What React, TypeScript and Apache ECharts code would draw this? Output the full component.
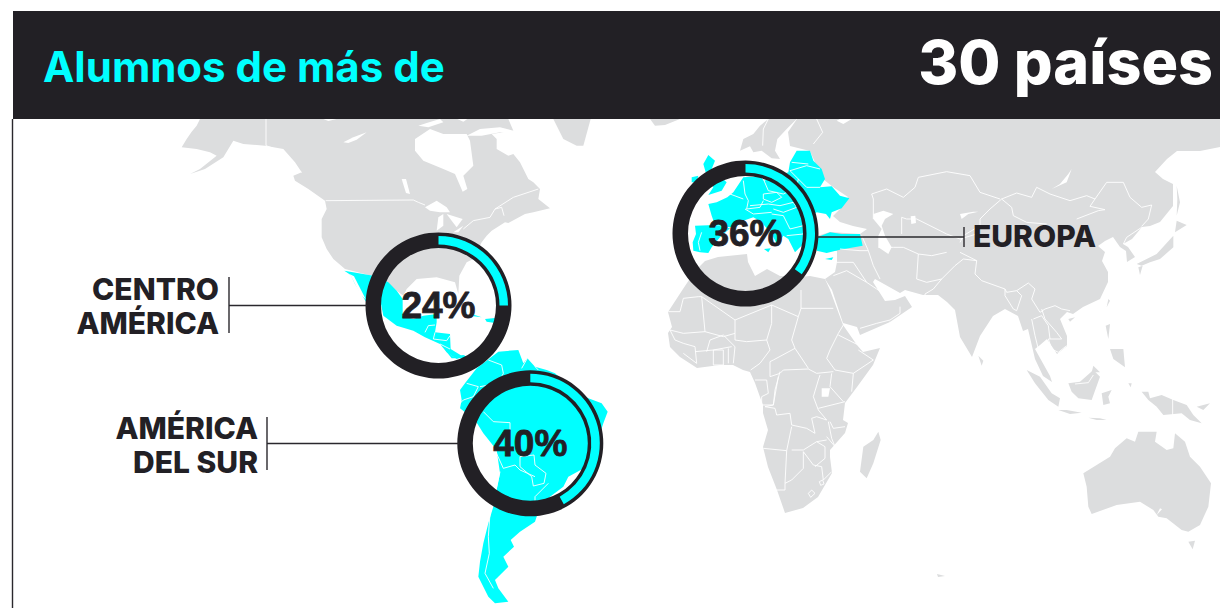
import React, { useEffect, useRef } from "react";
import * as echarts from "echarts";

const headerLead = "Alumnos de más de";
const headerCount = "30 países";
const regionNames = ["CENTRO\nAMÉRICA", "AMÉRICA\nDEL SUR", "EUROPA"];
const percentLabels = ["24%", "40%", "36%"];
const arcShares = [25, 42, 35];

const CYAN = "#00ffff";
const DARK = "#222025";
const LAND = "#dcddde";

// Traced outlines: flat x,y lists, in 3x crop units of the reference.
const crop = (ox: number, oy: number) => (f: number[]) => {
  const out: number[][] = [];
  for (let i = 0; i < f.length; i += 2) out.push([ox + f[i] / 3, oy + f[i + 1] / 3]);
  return out;
};
const na = crop(180, 119);
const sa = crop(440, 340);
const eu = crop(640, 119);
const ea = crop(960, 119);
const af = crop(660, 290);
const oc = crop(1000, 370);
const abs = (f: number[]) => crop(0, 0)(f.map((v) => v * 3));

const grayLand: number[][][] = [
  na([60,0,50,20,35,38,20,60,5,85,50,90,90,100,110,110,60,150,30,165,75,150,130,115,160,65,190,75,255,80,310,90,345,130,365,160,340,170,345,185,385,210,435,245,440,270,425,300,425,355,440,390,460,420,495,450,575,470,620,490,650,515,670,530,680,510,710,480,770,475,825,490,835,525,838,470,860,430,880,420,905,370,920,350,935,335,975,310,985,312,1035,285,1060,280,1110,268,1075,240,1080,210,1060,190,1045,180,1020,130,1000,105,985,110,950,90,950,60,935,45,1000,35,985,0]),
  na([1120,0,1232,0,1210,80,1190,80,1150,60]),
  eu([30,0,120,0,75,18,45,20]),
  eu([300,95,310,60,340,45,360,20,385,0,470,0,440,30,412,60,405,95,420,120,395,118,365,95,340,100,330,82]),
  abs([797,119,1220,119,1220,147,1200,151,1177,151,1167,159,1155,172,1163,179,1173,184,1173,206,1160,222,1150,226,1142,227,1132,239,1123,244,1128,247,1135,257,1127,262,1126,251,1120,247,1113,237,1105,241,1098,246,1105,252,1102,261,1108,272,1108,282,1100,299,1083,307,1073,314,1067,312,1060,319,1067,336,1067,346,1057,354,1047,339,1040,345,1035,349,1050,376,1052,382,1043,376,1035,359,1028,329,1023,331,1018,316,1005,309,993,316,980,336,972,357,960,337,955,310,947,302,938,295,923,295,905,290,900,293,875,279,873,282,885,301,895,300,905,296,912,307,890,322,860,335,857,327,843,323,832,290,825,279,835,272,837,262,837,251,817,251,817,236,830,232,860,234,867,229,853,226,840,222,833,216,840,209,848,197,833,187,823,179,817,167,810,151,790,146,788,132]),
  // Africa
  abs([695,271,683,289,668,312,672,327,668,333,670,347,680,357,697,368,720,365,733,365,743,370,750,372,755,383,760,397,763,405,763,413,768,430,763,447,768,467,777,490,785,513,803,508,818,497,832,473,830,457,830,450,845,433,848,423,843,420,845,403,857,387,873,365,880,348,863,352,857,345,843,325,830,290,825,279,810,276,800,277,780,276,767,269,755,276,748,262,747,254,718,257,705,261]),
  af([655,425,662,450,640,520,620,565,600,545,610,470,640,450]),
  // Asia-Pacific islands
  ea([650,305,680,318,645,340]),
  ea([640,350,640,385,600,420,570,430,545,440,530,435,590,405]),
  ea([535,445,548,440,540,468]),
  ea([650,200,660,250,650,290,652,240]),
  ea([445,540,450,545,440,565]),
  ea([325,600,345,595,330,608]),
  ea([437,620,450,615,445,660]),
  ea([450,690,490,690,495,745,460,720]),
  ea([400,740,420,760,395,760]),
  ea([55,710,70,725,65,740]),
  oc([80,0,120,20,155,70,180,85,175,110,145,90,105,40]),
  oc([175,120,200,120,245,128,210,132]),
  oc([265,143,300,145,320,150,290,150]),
  oc([205,40,240,35,280,0,300,20,275,90,235,85,215,65]),
  oc([305,70,335,60,325,80,330,100,310,105]),
  oc([385,40,395,40,392,52]),
  oc([425,65,445,65,450,85,485,75,520,90,560,105,580,135,605,160,570,150,545,130,490,135,470,110,445,90]),
  oc([590,110,630,100,610,120]),
  oc([250,310,330,260,345,235,380,205,405,215,415,185,470,185,465,215,500,240,520,235,525,190,555,215,570,260,600,290,633,340,625,410,600,465,565,485,545,480,500,445,475,440,460,420,420,395,350,405,275,432,265,410,260,350]),
  oc([565,515,585,512,578,538]),
  abs([937,574,945,576,938,577]),
];

const cyanLand: number[][][] = [
  na([493,455,580,470,625,490,650,515,668,540,668,590,700,600,730,590,770,585,770,610,765,640,810,645,812,690,845,710,855,710,830,720,800,700,780,675,735,655,700,635,650,620,610,590,600,540,580,565,558,548,525,495,512,468]),
  na([875,585,905,595,870,590]),
  na([915,600,945,597,945,612,920,608]),
  sa([15,30,40,50,70,45,100,60,70,55,35,55]),
  sa([175,35,235,30,250,70,262,55,285,80,320,90,345,100,400,150,445,175,485,190,503,215,490,250,470,310,440,380,385,410,370,440,330,470,300,500,285,545,240,575,212,600,222,620,190,650,205,680,165,720,175,745,205,785,165,790,145,770,115,710,120,665,130,610,145,550,160,500,180,400,170,330,130,280,105,240,60,205,65,180,60,150,75,130,110,85]),
  eu([205,255,230,250,262,235,280,220,300,190,310,175,360,172,372,185,445,160,450,130,470,95,510,95,520,125,545,150,555,180,540,205,575,202,600,230,628,238,605,268,575,280,570,300,558,285,530,280,505,300,495,340,490,375,465,400,445,360,430,350,412,378,395,345,365,310,340,295,310,305,290,322,270,325,225,318,215,290]),
  eu([165,320,225,318,270,328,240,355,215,385,205,402,180,400,160,395,158,370,168,345]),
  eu([372,390,392,388,385,400]),
  eu([555,420,580,415,575,423]),
  eu([190,135,205,108,225,125,215,150,260,190,245,215,205,228,220,205,200,170]),
  eu([155,175,175,170,170,190,155,190]),
  eu([532,355,570,340,605,345,660,345,668,380,600,392,560,402,530,395]),
];

const whiteWater: number[][][] = [
  na([705,60,750,30,790,45,860,45,870,65,880,140,850,170,862,210,848,218,825,165,790,150,730,125,705,95]),
  na([860,50,900,30,960,25,1000,35,990,45,960,40,905,50]),
  na([490,70,520,55,560,40,530,62,505,72]),
  na([665,180,678,180,690,225,678,222]),
  na([735,265,770,245,800,265,810,280,780,280,750,275]),
  na([770,335,775,295,790,285,790,320]),
  na([800,285,848,300,830,325,815,305]),
  na([820,340,850,320,835,340]),
  na([430,0,470,0,445,6]),
  na([715,20,745,25,790,10,780,0,740,12]),
  na([832,0,862,0,850,8]),
  na([510,466,522,472,558,542,540,525]),
  eu([700,285,730,275,760,285,735,300,725,320,735,350,755,385,745,405,715,385,715,350,725,330,700,300]),
  eu([812,292,826,290,828,312,814,315]),
  eu([960,285,1000,278,1015,278,985,285,965,300]),
  eu([590,5,610,15,635,0,600,0]),
  ea([335,150,320,190,275,210,300,195,325,165]),
  af([485,295,510,295,505,320,485,320]),
  oc([480,415,486,418,470,435]),
];

const borderLines: number[][][] = [
  na([258,0,258,80,300,95,345,145,365,160]),
  na([437,245,700,243,715,250,735,258]),
  na([850,330,880,305,930,295,945,270,965,265,972,290]),
  na([945,270,1000,235,1075,210]),
  na([735,640,745,620,765,618]),
  na([765,640,760,660,800,665,810,650]),
  na([780,675,810,690]),
  sa([145,60,185,75,190,100,175,130,120,140]),
  sa([245,85,262,55]),
  sa([285,80,295,90]),
  sa([80,130,115,140,100,170,70,180,60,190]),
  sa([130,215,160,245,210,248,210,270,165,330,190,385,225,375,240,390,285,410]),
  sa([240,350,282,345,285,375,318,400,312,430,280,438,275,410,240,380,240,350]),
  sa([180,395,170,440,150,520,145,590,148,640,135,700,160,745]),
  sa([325,430,285,470,285,482]),
  eu([385,0,370,30,368,80]),
  eu([530,0,548,40,520,75]),
  eu([455,130,505,135]),
  eu([450,155,500,140,540,150]),
  eu([475,180,500,205,540,205]),
  eu([370,180,385,215,430,225,470,205,475,180,450,155]),
  eu([310,185,315,225,325,245,320,270]),
  eu([270,225,310,240]),
  eu([320,270,360,265,370,245]),
  eu([370,225,410,220,425,235,395,250,370,240,370,225]),
  eu([330,260,385,255,420,260,460,250,470,265,430,280,400,270]),
  eu([470,265,490,275,490,320]),
  eu([395,285,430,290,450,330,490,320]),
  eu([315,270,340,285,395,280]),
  eu([185,340,175,370,180,395]),
  eu([440,350,490,345]),
  eu([700,300,700,240,695,225,740,210,790,235,825,205,835,175,920,158,990,170,1020,220,1080,240]),
  ea([125,240,170,222,215,235,230,205,270,225,330,245,380,230,405,240,440,190,490,190,510,235,545,265,575,258,565,300,545,322]),
  ea([125,240,155,265,160,290,200,310,260,315]),
  ea([350,300,415,275,435,272,390,262,405,240]),
  ea([125,240,90,270,60,300,60,320,10,350,0,370]),
  ea([545,325,500,355,490,375]),
  ea([0,400,50,425,45,465,65,485,135,510,140,520,170,515,205,492,225,510,215,540,240,580,255,570,285,560,305,570,330,575]),
  ea([135,510,135,530,160,570,170,575,185,530,170,515]),
  ea([215,600,225,650,235,690]),
  ea([245,570,255,600,290,640,305,660,265,660,275,690,295,700,320,680]),
  ea([220,600,245,590,265,620,270,660]),
  eu([785,345,785,295,800,300,830,300,870,320,920,345,960,360,1010,345]),
  eu([715,385,760,385,790,385,835,405,875,410,920,400]),
  eu([665,350,685,395,700,440,720,480]),
  eu([600,390,660,395,685,395]),
  eu([590,430,640,430,680,490]),
  eu([580,470,620,455,680,490,710,510,740,530]),
  eu([835,405,830,480,860,490,905,480,945,440,970,420,1010,425]),
  eu([905,480,880,510,855,525,855,550]),
  af([600,115,650,100,690,90,720,70,720,50]),
  af([690,95,695,110]),
  af([25,65,60,65,70,25,115,20,125,20,135,125,70,130,30,120]),
  af([135,125,190,140,225,130,225,90,335,45,415,80,423,55,423,0]),
  af([125,20,225,90]),
  af([423,55,520,55]),
  af([335,45,335,100,320,150,330,180,300,220,272,240]),
  af([225,130,225,150,260,155,320,150]),
  af([415,80,395,150,405,175,445,235]),
  af([330,215,340,210,405,175]),
  af([330,215,330,260,360,250,370,240,445,237,470,250,520,245]),
  af([550,105,535,130,510,180,500,205,525,240,580,250,640,210,595,180]),
  af([535,135,595,165]),
  af([140,185,150,150,190,135,225,170,220,220]),
  af([160,180,160,225,190,225,190,180,160,180]),
  af([205,175,205,220]),
  af([30,120,45,150,70,160,105,170,110,220,90,205,70,190]),
  af([105,185,160,180,215,170]),
  af([285,270,320,270,325,310,305,320,305,345,340,345,355,260]),
  af([360,245,345,300,340,345,315,350,345,355,350,375,390,370,395,405,440,415,465,430,455,385,470,380,500,390,475,360,460,320,475,270,480,255]),
  af([515,250,510,290,550,335]),
  af([580,250,575,305]),
  af([475,355,555,335]),
  af([510,395,520,415,555,410]),
  af([310,475,380,482,395,410]),
  af([395,480,430,480,470,455,500,450]),
  af([380,482,375,580,395,570,430,535,430,485,460,525,485,530,490,570,515,545]),
  af([350,600,375,600,375,580]),
  af([470,455,495,470,495,505,465,530]),
  af([500,440,525,470,515,445,505,395]),
  af([445,610,455,600,465,610,452,622,445,610]),
  af([478,575,488,570,492,582,482,586,478,575]),
  oc([518,85,518,150]),
  oc([225,42,265,38,280,15]),
];

const mapGeo = () => {
  const feature = (name: string, ring: number[][]) => ({
    type: "Feature",
    properties: { name },
    geometry: { type: "Polygon", coordinates: [ring] },
  });
  return {
    type: "FeatureCollection",
    features: [
      ...grayLand.map((r, i) => feature(`land${i}`, r)),
      ...cyanLand.map((r, i) => feature(`alumni${i}`, r)),
      ...whiteWater.map((r, i) => feature(`water${i}`, r)),
    ],
  };
};

const centers = [
  [438.5, 305.5],
  [530.3, 443.3],
  [745.5, 233.5],
];

const donutSeries = () =>
  centers.flatMap((center, i) => [
    {
      type: "pie",
      silent: true,
      z: 5,
      center,
      radius: [57.5, 73],
      startAngle: 90,
      clockwise: true,
      itemStyle: { color: DARK, borderWidth: 0 },
      labelLine: { show: false },
      label: {
        show: true,
        position: "center",
        formatter: percentLabels[i],
        color: DARK,
        fontFamily: "Liberation Sans",
        fontWeight: "bold",
        fontSize: 37,
        textBorderColor: DARK,
        textBorderWidth: 0.8,
      },
      emphasis: { disabled: true },
      data: [{ value: 100 }],
    },
    {
      type: "pie",
      silent: true,
      z: 6,
      center,
      radius: [61, 69.5],
      startAngle: 90,
      clockwise: true,
      label: { show: false },
      labelLine: { show: false },
      emphasis: { disabled: true },
      data: [
        { value: arcShares[i], itemStyle: { color: CYAN } },
        { value: 100 - arcShares[i], itemStyle: { color: "rgba(0,0,0,0)" } },
      ],
    },
  ]);

const label = (text: string, x: number, y: number, align: string) => ({
  type: "text",
  z: 100,
  x,
  y,
  style: {
    text,
    fill: DARK,
    font: "800 30px Inter",
    textAlign: align,
    textVerticalAlign: "middle",
    lineHeight: 34,
  },
});
const rule = (x1: number, y1: number, x2: number, y2: number) => ({
  type: "line",
  z: 100,
  shape: { x1, y1, x2, y2 },
  style: { stroke: "#2a282d", lineWidth: 1.4 },
});

export default function App() {
  const ref = useRef<HTMLDivElement>(null);
  useEffect(() => {
    document.body.style.margin = "0";
    const chart = echarts.init(ref.current!, undefined, { renderer: "svg" });
    echarts.registerMap("alumni", mapGeo() as any);
    chart.setOption({
      animation: false,
      backgroundColor: "#ffffff",
      geo: {
        map: "alumni",
        silent: true,
        roam: false,
        left: 0,
        top: 0,
        width: 1220,
        height: 608,
        boundingCoords: [[0, 0], [1220, 608]],
        projection: { project: (p: number[]) => p, unproject: (p: number[]) => p },
        label: { show: false },
        itemStyle: { areaColor: LAND, borderWidth: 0 },
        emphasis: { disabled: true },
        regions: [
          ...cyanLand.map((_, i) => ({ name: `alumni${i}`, itemStyle: { areaColor: CYAN, borderWidth: 0 } })),
          ...whiteWater.map((_, i) => ({ name: `water${i}`, itemStyle: { areaColor: "#ffffff", borderWidth: 0 } })),
        ],
      },
      series: [
        {
          type: "lines",
          coordinateSystem: "geo",
          polyline: true,
          silent: true,
          z: 3,
          lineStyle: { color: "#ffffff", width: 0.9, opacity: 1 },
          data: borderLines.map((coords) => ({ coords })),
        },
        ...donutSeries(),
      ],
      graphic: [
        { type: "rect", z: 100, shape: { x: 13, y: 11, width: 1207, height: 108 }, style: { fill: DARK } },
        rule(12.5, 119, 12.5, 608),
        {
          type: "text",
          z: 101,
          x: 43,
          y: 66,
          style: { text: headerLead, fill: CYAN, font: "700 42px Inter", textAlign: "left", textVerticalAlign: "middle" },
        },
        {
          type: "text",
          z: 101,
          x: 1213,
          y: 62,
          style: { text: headerCount, fill: "#ffffff", font: "800 61px Inter", textAlign: "right", textVerticalAlign: "middle" },
        },
        label(regionNames[0], 219, 306, "right"),
        label(regionNames[1], 258, 445, "right"),
        label(regionNames[2], 973, 236, "left"),
        rule(229, 277, 229, 333),
        rule(229, 305.5, 367, 305.5),
        rule(267, 417, 267, 470),
        rule(267, 443.5, 459, 443.5),
        rule(964, 227, 964, 247),
        rule(817, 237, 964, 237),
      ],
    });
    return () => chart.dispose();
  }, []);
  return <div ref={ref} style={{ width: 1220, height: 608 }} />;
}
